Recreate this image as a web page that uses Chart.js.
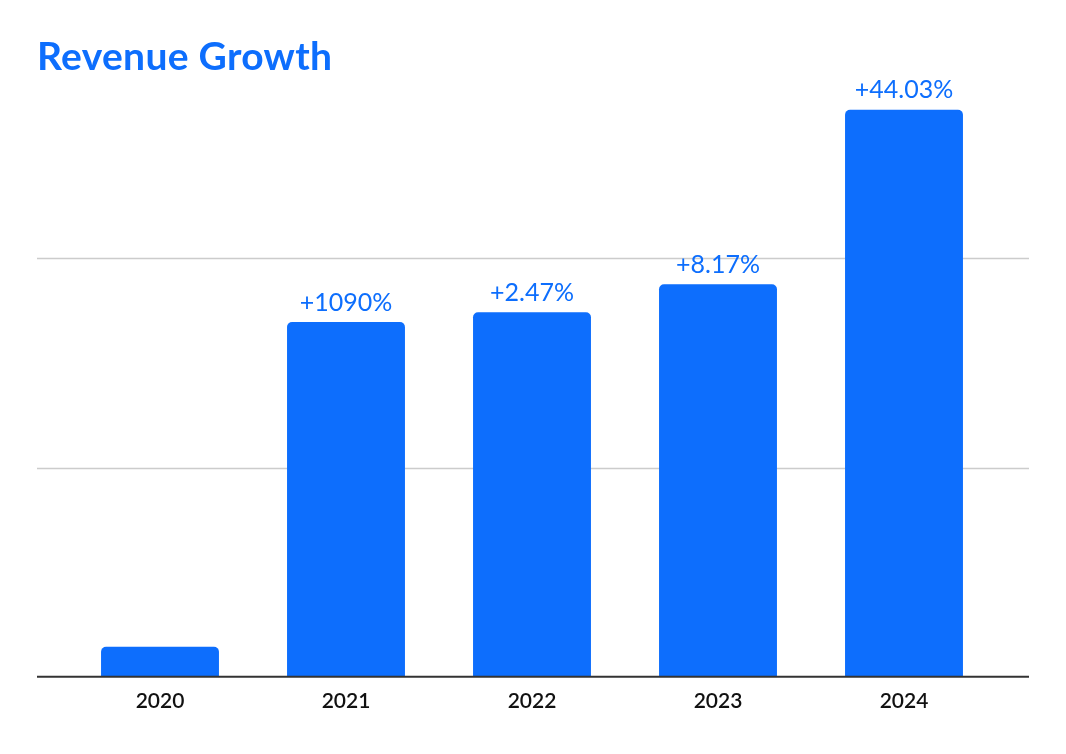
<!DOCTYPE html>
<html>
<head>
<meta charset="utf-8">
<script src="https://cdn.jsdelivr.net/npm/chart.js@4"></script>
<style>
  html, body { margin: 0; padding: 0; background: #fff; }
  #wrap { position: relative; width: 1066px; height: 754px; }
  #title {
    position: absolute; left: 37px; top: 32px; margin: 0;
    font-family: Lato, sans-serif; font-weight: 700; font-size: 39px;
    color: #0d6efd; letter-spacing: 0.3px;
  }
</style>
</head>
<body>
<div id="wrap">
  <canvas id="myChart" width="1066" height="754"></canvas>
  <h1 id="title">Revenue Growth</h1>
</div>
<script>
// years on the x axis
const years = ['2020', '2021', '2022', '2023', '2024'];
// revenue (relative units, gridline every 100)
const revenue = [14.3, 169.5, 174.2, 187.6, 271.0];
// growth labels shown above the bars
const growthLabels = ['', '+1090%', '+2.47%', '+8.17%', '+44.03%'];
const gridValues = [100, 200];

const blue = '#0d6efd';

// draws the horizontal grid lines a bit wider than the plot area
const gridPlugin = {
  id: 'gridLines',
  beforeDatasetsDraw(chart) {
    const ctx = chart.ctx;
    const y = chart.scales.y;
    ctx.save();
    ctx.strokeStyle = '#cccccc';
    ctx.lineWidth = 1.5;
    gridValues.forEach((v) => {
      const py = Math.round(y.getPixelForValue(v)) + 0.5;
      ctx.beginPath();
      ctx.moveTo(37, py);
      ctx.lineTo(1029, py);
      ctx.stroke();
    });
    ctx.restore();
  },
  afterDatasetsDraw(chart) {
    const ctx = chart.ctx;
    const y = chart.scales.y;
    const py = y.getPixelForValue(0);
    ctx.save();
    ctx.strokeStyle = '#333333';
    ctx.lineWidth = 2;
    ctx.beginPath();
    ctx.moveTo(37, py);
    ctx.lineTo(1029, py);
    ctx.stroke();

    // growth labels
    const meta = chart.getDatasetMeta(0);
    ctx.fillStyle = blue;
    ctx.font = '400 25px Lato, sans-serif';
    ctx.textAlign = 'center';
    ctx.textBaseline = 'bottom';
    meta.data.forEach((bar, i) => {
      if (growthLabels[i]) ctx.fillText(growthLabels[i], bar.x, bar.y - 7);
    });
    ctx.restore();
  }
};

const ctx = document.getElementById('myChart');

const myChart = new Chart(ctx, {
  type: 'bar',
  data: {
    labels: years,
    datasets: [{
      label: 'Revenue',
      data: revenue,
      backgroundColor: blue,
      borderRadius: { topLeft: 5, topRight: 5 },
      borderSkipped: 'bottom',
      barPercentage: 0.634,
      categoryPercentage: 1
    }]
  },
  options: {
    responsive: false,
    animation: false,
    layout: { padding: { left: 67, right: 69, top: 49, bottom: 28 } },
    plugins: {
      legend: { display: false },
      tooltip: { enabled: false }
    },
    scales: {
      x: {
        grid: { display: false, drawTicks: false },
        border: { display: false },
        ticks: {
          padding: 12,
          color: '#111',
          font: { family: 'Lato, sans-serif', size: 21, weight: '600' }
        }
      },
      y: {
        display: false,
        min: 0,
        max: 300
      }
    }
  },
  plugins: [gridPlugin]
});
</script>
</body>
</html>
